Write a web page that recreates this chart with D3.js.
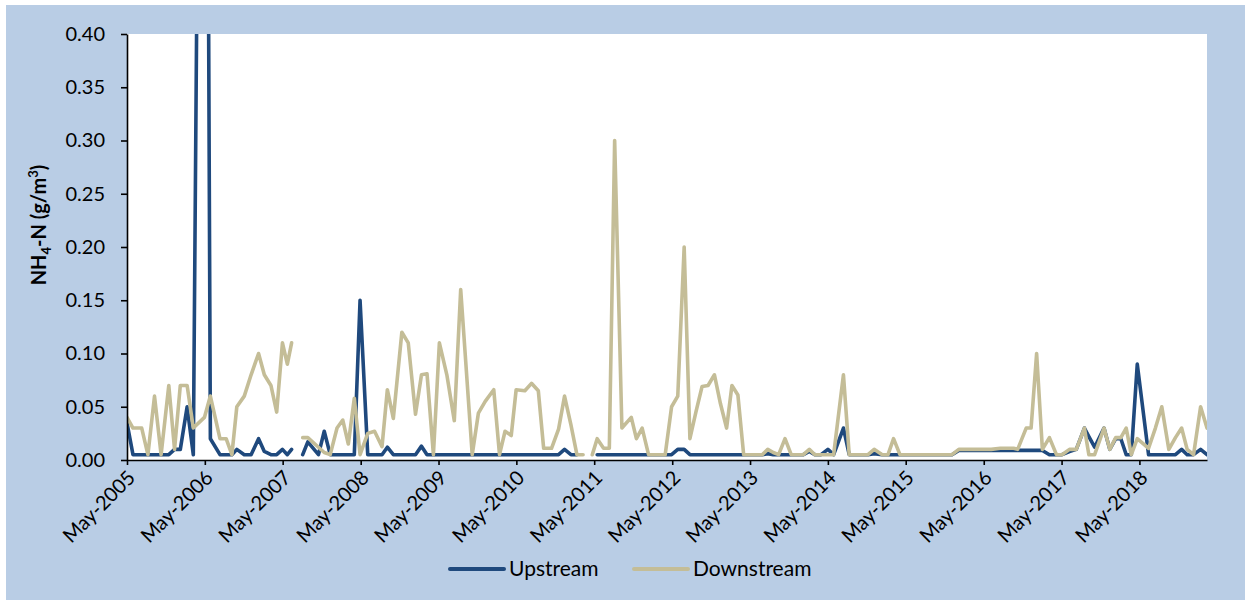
<!DOCTYPE html>
<html>
<head>
<meta charset="utf-8">
<script src="https://cdn.jsdelivr.net/npm/d3@7"></script>
<style>
  html, body { margin: 0; padding: 0; background: #ffffff; }
  svg { display: block; font-family: Lato, "Open Sans", sans-serif; }
</style>
</head>
<body>
<svg id="chart" width="1251" height="605"></svg>
<script>
// Sampling dates shared by both monitoring sites (null values mark missed samples)
const sampleDates = [
  "2005-05-01","2005-05-29","2005-07-09","2005-08-07","2005-09-07","2005-10-08","2005-11-13","2005-12-10",
  "2006-01-06","2006-02-07","2006-03-08","2006-04-29","2006-05-27","2006-07-11","2006-08-09","2006-09-05",
  "2006-09-28","2006-11-02","2006-12-04","2007-01-08","2007-02-04","2007-03-07","2007-04-03","2007-04-30",
  "2007-05-23","2007-06-12","2007-07-07","2007-08-03","2007-08-27","2007-10-16","2007-11-12","2007-12-10",
  "2008-01-11","2008-02-07","2008-03-04","2008-04-01","2008-04-28","2008-06-03","2008-07-05","2008-08-09",
  "2008-09-03","2008-10-01","2008-11-10","2008-12-10","2009-01-13","2009-02-10","2009-03-08","2009-04-07",
  "2009-05-05","2009-06-09","2009-07-14","2009-08-13","2009-10-06","2009-11-04","2009-12-06","2010-01-15",
  "2010-02-11","2010-03-09","2010-04-07","2010-04-30","2010-06-10","2010-07-11","2010-08-12","2010-09-06",
  "2010-10-13","2010-11-15","2010-12-13","2011-01-12","2011-02-09","2011-03-10","2011-03-28","2011-04-22",
  "2011-05-15","2011-06-14","2011-07-11","2011-08-05","2011-09-08","2011-10-22","2011-11-15","2011-12-12",
  "2012-01-11","2012-02-19","2012-03-29","2012-04-28","2012-05-27","2012-06-26","2012-07-23","2012-08-20",
  "2012-09-18","2012-10-16","2012-11-15","2012-12-13","2013-01-11","2013-02-05","2013-03-05","2013-04-01",
  "2013-05-04","2013-05-30","2013-06-27","2013-07-23","2013-08-18","2013-09-12","2013-10-12","2013-11-10",
  "2013-12-09","2014-01-06","2014-02-03","2014-03-01","2014-03-30","2014-05-01","2014-05-28","2014-07-13",
  "2014-08-09","2014-09-07","2014-10-05","2014-11-05","2014-12-04","2015-01-11","2015-02-07","2015-03-05",
  "2015-04-04","2015-05-03","2015-06-03","2015-07-03","2015-08-03","2015-09-03","2015-10-03","2015-11-03",
  "2015-12-04","2016-01-05","2016-02-05","2016-03-05","2016-04-05","2016-05-05","2016-06-05","2016-07-18",
  "2016-08-18","2016-09-18","2016-10-07","2016-11-16","2016-12-09","2017-01-04","2017-01-31","2017-03-05",
  "2017-04-07","2017-05-03","2017-06-07","2017-07-09","2017-08-16","2017-09-06","2017-10-03","2017-11-16",
  "2017-12-13","2018-01-10","2018-02-03","2018-02-28","2018-03-24","2018-04-21","2018-06-13","2018-07-15",
  "2018-08-14","2018-09-16","2018-10-17","2018-11-15","2018-12-11","2019-01-10","2019-02-12","2019-03-14"
];

// NH4-N concentrations, g/m3
const upstream = [
  0.035,0.005,0.005,0.005,0.005,0.005,0.005,0.01,
  0.01,0.05,0.005,1.35,0.02,0.005,0.005,0.005,
  0.01,0.005,0.005,0.02,0.008,0.005,0.005,0.01,
  0.005,0.01,null,0.005,0.017,0.005,0.027,0.005,
  0.005,0.005,0.005,0.005,0.15,0.005,0.005,0.005,
  0.012,0.005,0.005,0.005,0.005,0.013,0.005,0.005,
  0.005,0.005,0.005,0.005,0.005,0.005,0.005,0.005,
  0.005,0.005,0.005,0.005,0.005,0.005,0.005,0.005,
  0.005,0.005,0.01,0.005,0.005,null,null,null,
  0.005,0.005,0.005,0.005,0.005,0.005,0.005,0.005,
  0.005,0.005,0.005,0.005,0.01,0.01,0.005,0.005,
  0.005,0.005,0.005,0.005,0.005,0.005,0.005,0.005,
  0.005,0.005,0.005,0.006,0.005,0.005,0.005,0.005,
  0.005,0.005,0.008,0.005,0.005,0.01,0.005,0.03,
  0.005,0.005,0.005,0.005,0.006,0.005,0.005,0.005,
  0.005,0.005,0.005,0.005,0.005,0.005,0.005,0.005,
  0.005,0.009,0.009,0.009,0.009,0.009,0.009,0.009,
  0.009,0.009,0.009,0.009,0.009,0.009,0.009,0.005,
  0.005,0.005,0.008,0.01,0.03,0.022,0.012,0.03,
  0.01,0.02,0.02,0.005,0.005,0.09,0.005,0.005,
  0.005,0.005,0.005,0.01,0.005,0.005,0.01,0.005
];

const downstream = [
  0.04,0.03,0.03,0.005,0.06,0.005,0.07,0.01,
  0.07,0.07,0.03,0.04,0.06,0.02,0.02,0.005,
  0.05,0.06,0.08,0.10,0.08,0.07,0.045,0.11,
  0.09,0.11,null,0.021,0.021,0.012,0.007,0.005,
  0.03,0.0375,0.015,0.058,0.005,0.025,0.027,0.0125,
  0.066,0.039,0.12,0.11,0.043,0.08,0.081,0.005,
  0.11,0.08,0.037,0.16,0.005,0.044,0.055,0.066,
  0.005,0.027,0.023,0.066,0.065,0.072,0.065,0.011,
  0.011,0.029,0.06,0.033,0.005,0.005,null,0.005,
  0.02,0.011,0.011,0.30,0.03,0.04,0.02,0.03,
  0.005,0.005,0.005,0.05,0.06,0.20,0.02,0.045,
  0.069,0.07,0.08,0.053,0.03,0.07,0.061,0.005,
  0.005,0.005,0.005,0.01,0.007,0.005,0.02,0.005,
  0.005,0.005,0.01,0.005,0.005,0.005,0.005,0.08,
  0.005,0.005,0.005,0.005,0.01,0.005,0.005,0.02,
  0.005,0.005,0.005,0.005,0.005,0.005,0.005,0.005,
  0.005,0.01,0.01,0.01,0.01,0.01,0.01,0.011,
  0.011,0.011,0.01,0.03,0.03,0.10,0.01,0.021,
  0.005,0.005,0.01,0.01,0.03,0.005,0.005,0.03,
  0.01,0.021,0.021,0.03,0.005,0.02,0.011,0.03,
  0.05,0.01,0.021,0.03,0.01,0.005,0.05,0.03
];

const seriesNames = ["Upstream", "Downstream"];
const seriesColors = ["#1f497d", "#c4bd97"];
const yTickValues = [0, 0.05, 0.10, 0.15, 0.20, 0.25, 0.30, 0.35, 0.40];
const xTickLabels = ["May-2005","May-2006","May-2007","May-2008","May-2009","May-2010","May-2011",
                     "May-2012","May-2013","May-2014","May-2015","May-2016","May-2017","May-2018"];

const parseDay = d3.timeParse("%Y-%m-%d");
const parseTick = d3.timeParse("%b-%Y");
const dates = sampleDates.map(parseDay);

const plot = { left: 127, top: 34, right: 1207, bottom: 460 };

const svg = d3.select("#chart");

// chart area and plot area backgrounds
svg.append("rect").attr("x", 6).attr("y", 5).attr("width", 1239).attr("height", 595)
  .attr("fill", "#b9cde5");
svg.append("rect").attr("x", plot.left).attr("y", plot.top)
  .attr("width", plot.right - plot.left).attr("height", plot.bottom - plot.top)
  .attr("fill", "#ffffff");

const x = d3.scaleTime().domain(d3.extent(dates)).range([plot.left, plot.right]);
const y = d3.scaleLinear().domain([0, 0.4]).range([plot.bottom, plot.top]);

svg.append("clipPath").attr("id", "plot-clip")
  .append("rect").attr("x", plot.left).attr("y", plot.top)
  .attr("width", plot.right - plot.left).attr("height", plot.bottom - plot.top);

const line = d3.line()
  .defined(d => d.v !== null)
  .x(d => x(d.date))
  .y(d => y(d.v));

[upstream, downstream].forEach((vals, i) => {
  const pts = vals.map((v, j) => ({ date: dates[j], v }));
  svg.append("path")
    .datum(pts)
    .attr("clip-path", "url(#plot-clip)")
    .attr("fill", "none")
    .attr("stroke", seriesColors[i])
    .attr("stroke-width", 3.6)
    .attr("stroke-linejoin", "round")
    .attr("stroke-linecap", "round")
    .attr("d", line);
});

// y axis
const yAxis = svg.append("g")
  .attr("transform", `translate(${plot.left},0)`)
  .call(d3.axisLeft(y).tickValues(yTickValues).tickFormat(d3.format(".2f"))
    .tickSize(6).tickSizeOuter(0).tickPadding(16));
yAxis.selectAll("text").attr("font-size", 20).attr("fill", "#000").attr("font-family", "Lato");
yAxis.selectAll("line, path").attr("stroke", "#000").attr("stroke-width", 1.6);

// x axis
const xAxis = svg.append("g")
  .attr("transform", `translate(0,${plot.bottom})`)
  .call(d3.axisBottom(x).tickValues(xTickLabels.map(parseTick))
    .tickFormat((d, i) => xTickLabels[i]).tickSize(5).tickSizeOuter(0));
xAxis.selectAll("line, path").attr("stroke", "#000").attr("stroke-width", 1.6);
xAxis.selectAll("text")
  .attr("font-size", 20).attr("fill", "#000").attr("font-family", "Lato")
  .attr("text-anchor", "end")
  .attr("x", 0).attr("y", 0).attr("dy", "0.35em")
  .attr("transform", "translate(4,14) rotate(-45)");

// y axis title
const title = svg.append("text")
  .attr("transform", "translate(46,225) rotate(-90)")
  .attr("text-anchor", "middle")
  .attr("font-size", 20).attr("font-weight", "bold").attr("fill", "#000");
title.append("tspan").text("NH");
title.append("tspan").attr("font-size", 13).attr("dy", 5).text("4");
title.append("tspan").attr("dy", -5).text("-N (g/m");
title.append("tspan").attr("font-size", 13).attr("dy", -8).text("3");
title.append("tspan").attr("dy", 8).text(")");

// legend
const legendItems = [
  { name: seriesNames[0], color: seriesColors[0], x0: 450 },
  { name: seriesNames[1], color: seriesColors[1], x0: 634 }
];
const legend = svg.append("g");
legendItems.forEach(item => {
  legend.append("line")
    .attr("x1", item.x0).attr("x2", item.x0 + 54)
    .attr("y1", 569).attr("y2", 569)
    .attr("stroke", item.color).attr("stroke-width", 4).attr("stroke-linecap", "round");
  legend.append("text")
    .attr("x", item.x0 + 59).attr("y", 569).attr("dy", "0.35em")
    .attr("font-size", 21).attr("fill", "#000")
    .text(item.name);
});
</script>
</body>
</html>
